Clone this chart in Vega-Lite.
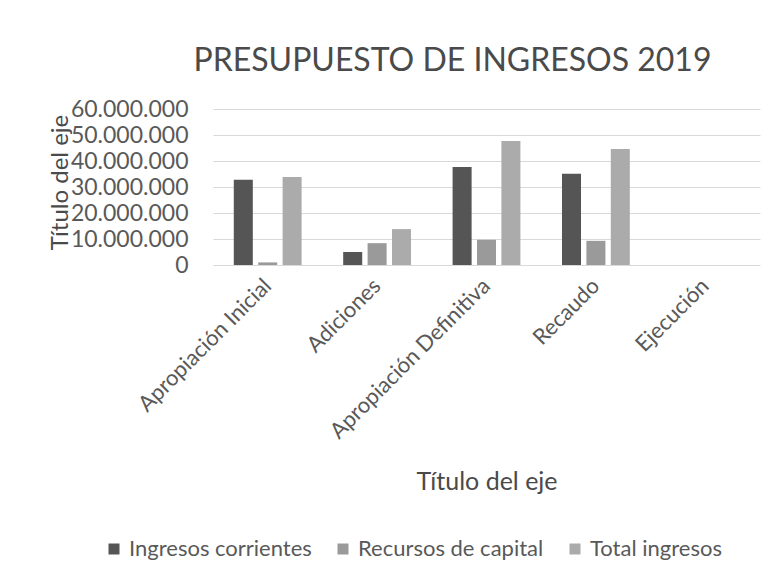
{
  "$schema": "https://vega.github.io/schema/vega-lite/v6.json",
  "width": 547,
  "height": 156,
  "autosize": "none",
  "padding": {"left": 213, "top": 109, "right": 23, "bottom": 319},
  "background": "white",
  "config": {
    "font": "Lato",
    "view": {"stroke": null}
  },
  "title": {
    "text": "PRESUPUESTO DE INGRESOS 2019",
    "fontSize": 32,
    "fontWeight": "normal",
    "color": "#4a4a4a",
    "anchor": "middle",
    "dx": -34,
    "offset": 20
  },
  "data": {
    "values": [
      {"categoria": "Apropiación Inicial", "serie": "Ingresos corrientes", "valor": 32800000},
      {"categoria": "Apropiación Inicial", "serie": "Recursos de capital", "valor": 1000000},
      {"categoria": "Apropiación Inicial", "serie": "Total ingresos", "valor": 33800000},
      {"categoria": "Adiciones", "serie": "Ingresos corrientes", "valor": 5000000},
      {"categoria": "Adiciones", "serie": "Recursos de capital", "valor": 8400000},
      {"categoria": "Adiciones", "serie": "Total ingresos", "valor": 13800000},
      {"categoria": "Apropiación Definitiva", "serie": "Ingresos corrientes", "valor": 37700000},
      {"categoria": "Apropiación Definitiva", "serie": "Recursos de capital", "valor": 9700000},
      {"categoria": "Apropiación Definitiva", "serie": "Total ingresos", "valor": 47700000},
      {"categoria": "Recaudo", "serie": "Ingresos corrientes", "valor": 35100000},
      {"categoria": "Recaudo", "serie": "Recursos de capital", "valor": 9300000},
      {"categoria": "Recaudo", "serie": "Total ingresos", "valor": 44600000}
    ]
  },
  "mark": {"type": "bar"},
  "encoding": {
    "x": {
      "field": "categoria",
      "type": "nominal",
      "sort": null,
      "scale": {
        "domain": ["Apropiación Inicial", "Adiciones", "Apropiación Definitiva", "Recaudo", "Ejecución"],
        "paddingInner": 0.38,
        "paddingOuter": 0.19
      },
      "axis": {
        "title": "Título del eje",
        "titleFontSize": 25,
        "titleFontWeight": "normal",
        "titleColor": "#4a4a4a",
        "titleY": 216,
        "titleBaseline": "middle",
        "labelAngle": -45,
        "labelAlign": "right",
        "labelBaseline": "middle",
        "labelFontSize": 22,
        "labelColor": "#595959",
        "labelPadding": 17,
        "labelLimit": 400,
        "ticks": false,
        "domain": false,
        "grid": false
      }
    },
    "xOffset": {
      "field": "serie",
      "type": "nominal",
      "scale": {"paddingInner": 0.22, "paddingOuter": 0}
    },
    "y": {
      "field": "valor",
      "type": "quantitative",
      "scale": {"domain": [0, 60000000], "nice": false},
      "axis": {
        "title": "Título del eje",
        "titleFontSize": 24,
        "titleFontWeight": "normal",
        "titleColor": "#4a4a4a",
        "titleX": -153,
        "titleY": 73,
        "titleAngle": -90,
        "titleAlign": "center",
        "titleBaseline": "middle",
        "values": [0, 10000000, 20000000, 30000000, 40000000, 50000000, 60000000],
        "labelExpr": "replace(format(datum.value, ','), regexp(',', 'g'), '.')",
        "labelFontSize": 23,
        "labelColor": "#595959",
        "labelPadding": 25,
        "ticks": false,
        "domain": false,
        "gridColor": "#d9d9d9",
        "gridWidth": 1
      }
    },
    "color": {
      "field": "serie",
      "type": "nominal",
      "scale": {
        "domain": ["Ingresos corrientes", "Recursos de capital", "Total ingresos"],
        "range": ["#555555", "#9a9a9a", "#ababab"]
      },
      "legend": {
        "title": null,
        "orient": "none",
        "direction": "horizontal",
        "legendX": -110,
        "legendY": 429,
        "symbolType": "square",
        "symbolSize": 121,
        "symbolStrokeWidth": 0,
        "labelFontSize": 22,
        "labelColor": "#595959",
        "labelOffset": 4,
        "labelLimit": 300,
        "columnPadding": 20
      }
    }
  }
}
